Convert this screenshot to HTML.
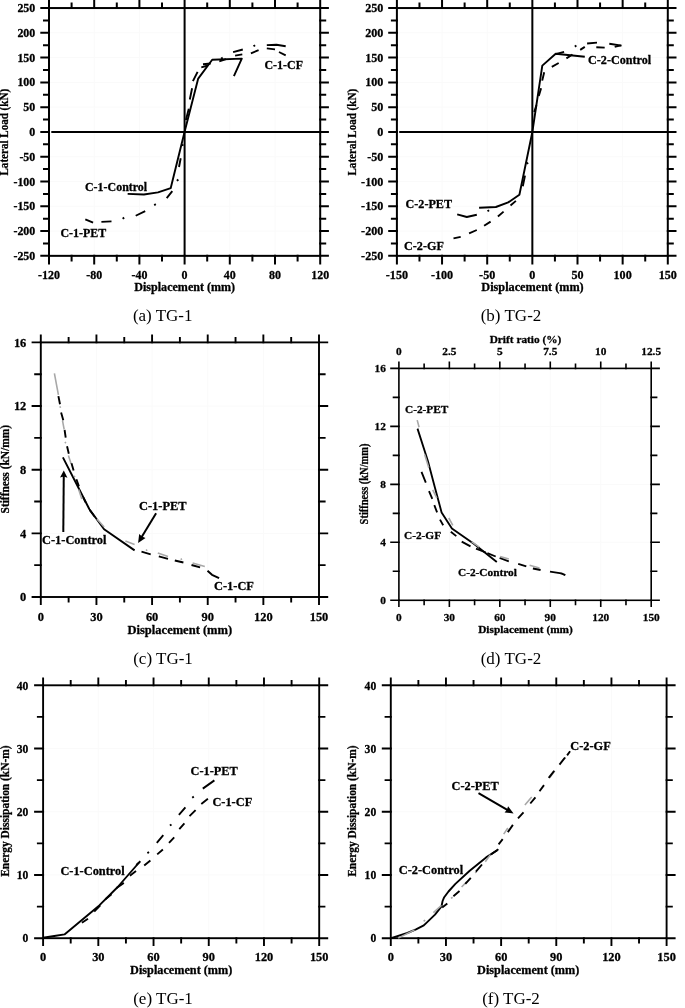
<!DOCTYPE html>
<html lang="en">
<head>
<meta charset="utf-8">
<title>Lateral load, stiffness and energy dissipation: TG-1 and TG-2</title>
<style>
html,body{margin:0;padding:0;background:#fff;}
body{width:685px;height:1008px;overflow:hidden;}
svg{display:block;font-family:'Liberation Serif', 'DejaVu Serif', serif;will-change:transform;}
text{fill:#000;}
text[font-weight=bold]{stroke:#000;stroke-width:.28px;stroke-linejoin:round;}
</style>
</head>
<body>
<svg width="685" height="1008" viewBox="0 0 685 1008">
<rect width="685" height="1008" fill="#fff"/>
<g id="panel-a">
<path d="M94.2 8.05V255.85M139.4 8.05V255.85M229.8 8.05V255.85M275 8.05V255.85M49 231.07H320.2M49 206.29H320.2M49 181.51H320.2M49 156.73H320.2M49 107.17H320.2M49 82.39H320.2M49 57.61H320.2M49 32.83H320.2" stroke="#fafafa" stroke-width="1" fill="none"/>
<rect x="49" y="8.05" width="271.2" height="247.8" fill="none" stroke="#000" stroke-width="2"/>
<path d="M49 254.85v9.6M49 9.05v-9.6M94.2 254.85v9.6M94.2 9.05v-9.6M139.4 254.85v9.6M139.4 9.05v-9.6M184.6 254.85v9.6M184.6 9.05v-9.6M229.8 254.85v9.6M229.8 9.05v-9.6M275 254.85v9.6M275 9.05v-9.6M320.2 254.85v9.6M320.2 9.05v-9.6M71.6 254.85v6.6M71.6 9.05v-6.6M116.8 254.85v6.6M116.8 9.05v-6.6M162 254.85v6.6M162 9.05v-6.6M207.2 254.85v6.6M207.2 9.05v-6.6M252.4 254.85v6.6M252.4 9.05v-6.6M297.6 254.85v6.6M297.6 9.05v-6.6M50 255.85h-9.7M319.2 255.85h9.7M50 231.07h-9.7M319.2 231.07h9.7M50 206.29h-9.7M319.2 206.29h9.7M50 181.51h-9.7M319.2 181.51h9.7M50 156.73h-9.7M319.2 156.73h9.7M50 131.95h-9.7M319.2 131.95h9.7M50 107.17h-9.7M319.2 107.17h9.7M50 82.39h-9.7M319.2 82.39h9.7M50 57.61h-9.7M319.2 57.61h9.7M50 32.83h-9.7M319.2 32.83h9.7M50 8.05h-9.7M319.2 8.05h9.7M50 243.46h-7M319.2 243.46h7M50 218.68h-7M319.2 218.68h7M50 193.9h-7M319.2 193.9h7M50 169.12h-7M319.2 169.12h7M50 144.34h-7M319.2 144.34h7M50 119.56h-7M319.2 119.56h7M50 94.78h-7M319.2 94.78h7M50 70h-7M319.2 70h7M50 45.22h-7M319.2 45.22h7M50 20.44h-7M319.2 20.44h7" stroke="#000" stroke-width="2" fill="none"/>
<path d="M51.3 131.95H320.2M184.6 8.05V255.85" stroke="#000" stroke-width="2" fill="none"/>
<text transform="translate(35.3 259.85) scale(1.03 1)" font-size="11.6" text-anchor="end" font-weight="bold">-250</text>
<text transform="translate(35.3 235.07) scale(1.03 1)" font-size="11.6" text-anchor="end" font-weight="bold">-200</text>
<text transform="translate(35.3 210.29) scale(1.03 1)" font-size="11.6" text-anchor="end" font-weight="bold">-150</text>
<text transform="translate(35.3 185.51) scale(1.03 1)" font-size="11.6" text-anchor="end" font-weight="bold">-100</text>
<text transform="translate(35.3 160.73) scale(1.03 1)" font-size="11.6" text-anchor="end" font-weight="bold">-50</text>
<text transform="translate(35.3 135.95) scale(1.03 1)" font-size="11.6" text-anchor="end" font-weight="bold">0</text>
<text transform="translate(35.3 111.17) scale(1.03 1)" font-size="11.6" text-anchor="end" font-weight="bold">50</text>
<text transform="translate(35.3 86.39) scale(1.03 1)" font-size="11.6" text-anchor="end" font-weight="bold">100</text>
<text transform="translate(35.3 61.61) scale(1.03 1)" font-size="11.6" text-anchor="end" font-weight="bold">150</text>
<text transform="translate(35.3 36.83) scale(1.03 1)" font-size="11.6" text-anchor="end" font-weight="bold">200</text>
<text transform="translate(35.3 12.05) scale(1.03 1)" font-size="11.6" text-anchor="end" font-weight="bold">250</text>
<text transform="translate(49 278.5) scale(1.03 1)" font-size="11.6" text-anchor="middle" font-weight="bold">-120</text>
<text transform="translate(94.2 278.5) scale(1.03 1)" font-size="11.6" text-anchor="middle" font-weight="bold">-80</text>
<text transform="translate(139.4 278.5) scale(1.03 1)" font-size="11.6" text-anchor="middle" font-weight="bold">-40</text>
<text transform="translate(184.6 278.5) scale(1.03 1)" font-size="11.6" text-anchor="middle" font-weight="bold">0</text>
<text transform="translate(229.8 278.5) scale(1.03 1)" font-size="11.6" text-anchor="middle" font-weight="bold">40</text>
<text transform="translate(275 278.5) scale(1.03 1)" font-size="11.6" text-anchor="middle" font-weight="bold">80</text>
<text transform="translate(320.2 278.5) scale(1.03 1)" font-size="11.6" text-anchor="middle" font-weight="bold">120</text>
<text transform="translate(184.7 291) scale(1.04 1)" font-size="11.6" text-anchor="middle" font-weight="bold">Displacement (mm)</text>
<text transform="translate(8.2 132.2) rotate(-90) scale(0.9 1)" font-size="12.3" text-anchor="middle" font-weight="bold">Lateral Load (kN)</text>
<text transform="translate(162.7 320.5)" font-size="17" text-anchor="middle">(a) TG-1</text>
<text transform="translate(264.5 68.5) scale(1.03 1)" font-size="11.6" font-weight="bold">C-1-CF</text>
<text transform="translate(85 190.5) scale(1.03 1)" font-size="11.6" font-weight="bold">C-1-Control</text>
<text transform="translate(60.5 237) scale(1.03 1)" font-size="11.6" font-weight="bold">C-1-PET</text>
</g>
<g id="panel-b">
<path d="M442.05 8.05V255.85M487.2 8.05V255.85M577.5 8.05V255.85M622.65 8.05V255.85M396.9 231.07H667.8M396.9 206.29H667.8M396.9 181.51H667.8M396.9 156.73H667.8M396.9 107.17H667.8M396.9 82.39H667.8M396.9 57.61H667.8M396.9 32.83H667.8" stroke="#fafafa" stroke-width="1" fill="none"/>
<rect x="396.9" y="8.05" width="270.9" height="247.8" fill="none" stroke="#000" stroke-width="2"/>
<path d="M396.9 254.85v9.6M396.9 9.05v-9.6M442.05 254.85v9.6M442.05 9.05v-9.6M487.2 254.85v9.6M487.2 9.05v-9.6M532.35 254.85v9.6M532.35 9.05v-9.6M577.5 254.85v9.6M577.5 9.05v-9.6M622.65 254.85v9.6M622.65 9.05v-9.6M667.8 254.85v9.6M667.8 9.05v-9.6M419.47 254.85v6.6M419.47 9.05v-6.6M464.62 254.85v6.6M464.62 9.05v-6.6M509.77 254.85v6.6M509.77 9.05v-6.6M554.92 254.85v6.6M554.92 9.05v-6.6M600.07 254.85v6.6M600.07 9.05v-6.6M645.22 254.85v6.6M645.22 9.05v-6.6M397.9 255.85h-9.7M666.8 255.85h9.7M397.9 231.07h-9.7M666.8 231.07h9.7M397.9 206.29h-9.7M666.8 206.29h9.7M397.9 181.51h-9.7M666.8 181.51h9.7M397.9 156.73h-9.7M666.8 156.73h9.7M397.9 131.95h-9.7M666.8 131.95h9.7M397.9 107.17h-9.7M666.8 107.17h9.7M397.9 82.39h-9.7M666.8 82.39h9.7M397.9 57.61h-9.7M666.8 57.61h9.7M397.9 32.83h-9.7M666.8 32.83h9.7M397.9 8.05h-9.7M666.8 8.05h9.7M397.9 243.46h-7M666.8 243.46h7M397.9 218.68h-7M666.8 218.68h7M397.9 193.9h-7M666.8 193.9h7M397.9 169.12h-7M666.8 169.12h7M397.9 144.34h-7M666.8 144.34h7M397.9 119.56h-7M666.8 119.56h7M397.9 94.78h-7M666.8 94.78h7M397.9 70h-7M666.8 70h7M397.9 45.22h-7M666.8 45.22h7M397.9 20.44h-7M666.8 20.44h7" stroke="#000" stroke-width="2" fill="none"/>
<path d="M399.2 131.95H667.8M532.35 8.05V255.85" stroke="#000" stroke-width="2" fill="none"/>
<text transform="translate(383.4 259.85) scale(1.03 1)" font-size="11.8" text-anchor="end" font-weight="bold">-250</text>
<text transform="translate(383.4 235.07) scale(1.03 1)" font-size="11.8" text-anchor="end" font-weight="bold">-200</text>
<text transform="translate(383.4 210.29) scale(1.03 1)" font-size="11.8" text-anchor="end" font-weight="bold">-150</text>
<text transform="translate(383.4 185.51) scale(1.03 1)" font-size="11.8" text-anchor="end" font-weight="bold">-100</text>
<text transform="translate(383.4 160.73) scale(1.03 1)" font-size="11.8" text-anchor="end" font-weight="bold">-50</text>
<text transform="translate(383.4 135.95) scale(1.03 1)" font-size="11.8" text-anchor="end" font-weight="bold">0</text>
<text transform="translate(383.4 111.17) scale(1.03 1)" font-size="11.8" text-anchor="end" font-weight="bold">50</text>
<text transform="translate(383.4 86.39) scale(1.03 1)" font-size="11.8" text-anchor="end" font-weight="bold">100</text>
<text transform="translate(383.4 61.61) scale(1.03 1)" font-size="11.8" text-anchor="end" font-weight="bold">150</text>
<text transform="translate(383.4 36.83) scale(1.03 1)" font-size="11.8" text-anchor="end" font-weight="bold">200</text>
<text transform="translate(383.4 12.05) scale(1.03 1)" font-size="11.8" text-anchor="end" font-weight="bold">250</text>
<text transform="translate(396.9 278.5) scale(1.03 1)" font-size="11.8" text-anchor="middle" font-weight="bold">-150</text>
<text transform="translate(442.05 278.5) scale(1.03 1)" font-size="11.8" text-anchor="middle" font-weight="bold">-100</text>
<text transform="translate(487.2 278.5) scale(1.03 1)" font-size="11.8" text-anchor="middle" font-weight="bold">-50</text>
<text transform="translate(532.35 278.5) scale(1.03 1)" font-size="11.8" text-anchor="middle" font-weight="bold">0</text>
<text transform="translate(577.5 278.5) scale(1.03 1)" font-size="11.8" text-anchor="middle" font-weight="bold">50</text>
<text transform="translate(622.65 278.5) scale(1.03 1)" font-size="11.8" text-anchor="middle" font-weight="bold">100</text>
<text transform="translate(667.8 278.5) scale(1.03 1)" font-size="11.8" text-anchor="middle" font-weight="bold">150</text>
<text transform="translate(532.5 291) scale(1.04 1)" font-size="11.8" text-anchor="middle" font-weight="bold">Displacement (mm)</text>
<text transform="translate(356.4 132.2) rotate(-90) scale(0.9 1)" font-size="12.3" text-anchor="middle" font-weight="bold">Lateral Load (kN)</text>
<text transform="translate(511 320.5)" font-size="17" text-anchor="middle">(b) TG-2</text>
<text transform="translate(588 63.5) scale(1.03 1)" font-size="11.8" font-weight="bold">C-2-Control</text>
<text transform="translate(405.5 207.5) scale(1.03 1)" font-size="11.8" font-weight="bold">C-2-PET</text>
<text transform="translate(404 250) scale(1.03 1)" font-size="11.8" font-weight="bold">C-2-GF</text>
</g>
<g id="panel-c">
<path d="M96.44 342.4V597M152.08 342.4V597M207.72 342.4V597M263.36 342.4V597M40.8 533.35H319M40.8 469.7H319M40.8 406.05H319" stroke="#fafafa" stroke-width="1" fill="none"/>
<rect x="40.8" y="342.4" width="278.2" height="254.6" fill="none" stroke="#000" stroke-width="1.9"/>
<path d="M40.8 596.05v8.85M40.8 343.35v-8.85M96.44 596.05v8.85M96.44 343.35v-8.85M152.08 596.05v8.85M152.08 343.35v-8.85M207.72 596.05v8.85M207.72 343.35v-8.85M263.36 596.05v8.85M263.36 343.35v-8.85M319 596.05v8.85M319 343.35v-8.85M68.62 596.05v6.35M68.62 343.35v-6.35M124.26 596.05v6.35M124.26 343.35v-6.35M179.9 596.05v6.35M179.9 343.35v-6.35M235.54 596.05v6.35M235.54 343.35v-6.35M291.18 596.05v6.35M291.18 343.35v-6.35M41.75 597h-10.15M318.05 597h10.15M41.75 533.35h-10.15M318.05 533.35h10.15M41.75 469.7h-10.15M318.05 469.7h10.15M41.75 406.05h-10.15M318.05 406.05h10.15M41.75 342.4h-10.15M318.05 342.4h10.15M41.75 565.17h-7.55M318.05 565.17h7.55M41.75 501.52h-7.55M318.05 501.52h7.55M41.75 437.88h-7.55M318.05 437.88h7.55M41.75 374.22h-7.55M318.05 374.22h7.55" stroke="#000" stroke-width="1.9" fill="none"/>
<text transform="translate(26.3 601.4) scale(1.03 1)" font-size="12.05" text-anchor="end" font-weight="bold">0</text>
<text transform="translate(26.3 537.75) scale(1.03 1)" font-size="12.05" text-anchor="end" font-weight="bold">4</text>
<text transform="translate(26.3 474.1) scale(1.03 1)" font-size="12.05" text-anchor="end" font-weight="bold">8</text>
<text transform="translate(26.3 410.45) scale(1.03 1)" font-size="12.05" text-anchor="end" font-weight="bold">12</text>
<text transform="translate(26.3 346.8) scale(1.03 1)" font-size="12.05" text-anchor="end" font-weight="bold">16</text>
<text transform="translate(40.8 621) scale(1.03 1)" font-size="12.05" text-anchor="middle" font-weight="bold">0</text>
<text transform="translate(96.44 621) scale(1.03 1)" font-size="12.05" text-anchor="middle" font-weight="bold">30</text>
<text transform="translate(152.08 621) scale(1.03 1)" font-size="12.05" text-anchor="middle" font-weight="bold">60</text>
<text transform="translate(207.72 621) scale(1.03 1)" font-size="12.05" text-anchor="middle" font-weight="bold">90</text>
<text transform="translate(263.36 621) scale(1.03 1)" font-size="12.05" text-anchor="middle" font-weight="bold">120</text>
<text transform="translate(319 621) scale(1.03 1)" font-size="12.05" text-anchor="middle" font-weight="bold">150</text>
<text transform="translate(179.8 633.6) scale(1.04 1)" font-size="12.05" text-anchor="middle" font-weight="bold">Displacement (mm)</text>
<text transform="translate(8.5 469.2) rotate(-90) scale(0.93 1)" font-size="12.3" text-anchor="middle" font-weight="bold">Stiffness (kN/mm)</text>
<text transform="translate(163 663.5)" font-size="17" text-anchor="middle">(c) TG-1</text>
<text transform="translate(139 509.8) scale(1.03 1)" font-size="12.05" font-weight="bold">C-1-PET</text>
<text transform="translate(42 543.5) scale(1.03 1)" font-size="12.05" font-weight="bold">C-1-Control</text>
<text transform="translate(214 590) scale(1.03 1)" font-size="12.05" font-weight="bold">C-1-CF</text>
<path d="M63.3 532L63.76 475.4" stroke="#000" stroke-width="2" fill="none"/>
<path d="M63.8 470.6L67.44 477.63L63.75 476.4L60.04 477.57Z" fill="#000"/>
<path d="M156.1 513.2L141.51 537.35" stroke="#000" stroke-width="2" fill="none"/>
<path d="M138.1 543L139.17 534.07L142.03 536.49L145.51 537.89Z" fill="#000"/>
</g>
<g id="panel-d">
<path d="M449.36 368.4V600.3M499.82 368.4V600.3M550.28 368.4V600.3M600.74 368.4V600.3M398.9 542.32H651.2M398.9 484.35H651.2M398.9 426.38H651.2" stroke="#fafafa" stroke-width="1" fill="none"/>
<rect x="398.9" y="368.4" width="252.3" height="231.9" fill="none" stroke="#000" stroke-width="1.6"/>
<path d="M398.9 599.5v7.6M449.36 599.5v7.6M499.82 599.5v7.6M550.28 599.5v7.6M600.74 599.5v7.6M651.2 599.5v7.6M424.13 599.5v5.8M474.59 599.5v5.8M525.05 599.5v5.8M575.51 599.5v5.8M625.97 599.5v5.8M398.9 369.2v-7.6M449.36 369.2v-7.6M499.82 369.2v-7.6M550.28 369.2v-7.6M600.74 369.2v-7.6M651.2 369.2v-7.6M424.13 369.2v-5.8M474.59 369.2v-5.8M525.05 369.2v-5.8M575.51 369.2v-5.8M625.97 369.2v-5.8M399.7 600.3h-9.5M650.4 600.3h9.5M399.7 542.32h-9.5M650.4 542.32h9.5M399.7 484.35h-9.5M650.4 484.35h9.5M399.7 426.38h-9.5M650.4 426.38h9.5M399.7 368.4h-9.5M650.4 368.4h9.5M399.7 571.31h-7M650.4 571.31h7M399.7 513.34h-7M650.4 513.34h7M399.7 455.36h-7M650.4 455.36h7M399.7 397.39h-7M650.4 397.39h7" stroke="#000" stroke-width="1.6" fill="none"/>
<text transform="translate(385.8 604.2) scale(1.03 1)" font-size="11" text-anchor="end" font-weight="bold">0</text>
<text transform="translate(385.8 546.22) scale(1.03 1)" font-size="11" text-anchor="end" font-weight="bold">4</text>
<text transform="translate(385.8 488.25) scale(1.03 1)" font-size="11" text-anchor="end" font-weight="bold">8</text>
<text transform="translate(385.8 430.27) scale(1.03 1)" font-size="11" text-anchor="end" font-weight="bold">12</text>
<text transform="translate(385.8 372.3) scale(1.03 1)" font-size="11" text-anchor="end" font-weight="bold">16</text>
<text transform="translate(398.9 621) scale(1.03 1)" font-size="11" text-anchor="middle" font-weight="bold">0</text>
<text transform="translate(449.36 621) scale(1.03 1)" font-size="11" text-anchor="middle" font-weight="bold">30</text>
<text transform="translate(499.82 621) scale(1.03 1)" font-size="11" text-anchor="middle" font-weight="bold">60</text>
<text transform="translate(550.28 621) scale(1.03 1)" font-size="11" text-anchor="middle" font-weight="bold">90</text>
<text transform="translate(600.74 621) scale(1.03 1)" font-size="11" text-anchor="middle" font-weight="bold">120</text>
<text transform="translate(651.2 621) scale(1.03 1)" font-size="11" text-anchor="middle" font-weight="bold">150</text>
<text transform="translate(398.9 355) scale(1.03 1)" font-size="11" text-anchor="middle" font-weight="bold">0</text>
<text transform="translate(449.36 355) scale(1.03 1)" font-size="11" text-anchor="middle" font-weight="bold">2.5</text>
<text transform="translate(499.82 355) scale(1.03 1)" font-size="11" text-anchor="middle" font-weight="bold">5</text>
<text transform="translate(550.28 355) scale(1.03 1)" font-size="11" text-anchor="middle" font-weight="bold">7.5</text>
<text transform="translate(600.74 355) scale(1.03 1)" font-size="11" text-anchor="middle" font-weight="bold">10</text>
<text transform="translate(651.2 355) scale(1.03 1)" font-size="11" text-anchor="middle" font-weight="bold">12.5</text>
<text transform="translate(525.5 342.5) scale(1.03 1)" font-size="11" text-anchor="middle" font-weight="bold">Drift ratio (%)</text>
<text transform="translate(525.5 633) scale(1.03 1)" font-size="11" text-anchor="middle" font-weight="bold">Displacement (mm)</text>
<text transform="translate(368 484) rotate(-90) scale(0.9 1)" font-size="11.6" text-anchor="middle" font-weight="bold">Stiffness (kN/mm)</text>
<text transform="translate(511 664)" font-size="17" text-anchor="middle">(d) TG-2</text>
<text transform="translate(405 413) scale(1.03 1)" font-size="11" font-weight="bold">C-2-PET</text>
<text transform="translate(404 538.5) scale(1.03 1)" font-size="11" font-weight="bold">C-2-GF</text>
<text transform="translate(458 575.5) scale(1.03 1)" font-size="11" font-weight="bold">C-2-Control</text>
</g>
<g id="panel-e">
<path d="M98.32 685.3V938.2M153.54 685.3V938.2M208.76 685.3V938.2M263.98 685.3V938.2M43.1 874.98H319.2M43.1 811.75H319.2M43.1 748.52H319.2" stroke="#fafafa" stroke-width="1" fill="none"/>
<rect x="43.1" y="685.3" width="276.1" height="252.9" fill="none" stroke="#000" stroke-width="1.9"/>
<path d="M43.1 937.25v8.85M43.1 686.25v-8.85M98.32 937.25v8.85M98.32 686.25v-8.85M153.54 937.25v8.85M153.54 686.25v-8.85M208.76 937.25v8.85M208.76 686.25v-8.85M263.98 937.25v8.85M263.98 686.25v-8.85M319.2 937.25v8.85M319.2 686.25v-8.85M70.71 937.25v6.35M70.71 686.25v-6.35M125.93 937.25v6.35M125.93 686.25v-6.35M181.15 937.25v6.35M181.15 686.25v-6.35M236.37 937.25v6.35M236.37 686.25v-6.35M291.59 937.25v6.35M291.59 686.25v-6.35M44.05 938.2h-9.95M318.25 938.2h9.95M44.05 874.98h-9.95M318.25 874.98h9.95M44.05 811.75h-9.95M318.25 811.75h9.95M44.05 748.52h-9.95M318.25 748.52h9.95M44.05 685.3h-9.95M318.25 685.3h9.95M44.05 906.59h-7.15M318.25 906.59h7.15M44.05 843.36h-7.15M318.25 843.36h7.15M44.05 780.14h-7.15M318.25 780.14h7.15M44.05 716.91h-7.15M318.25 716.91h7.15" stroke="#000" stroke-width="1.9" fill="none"/>
<text transform="translate(28.3 942.4) scale(0.97 1)" font-size="12" text-anchor="end" font-weight="bold">0</text>
<text transform="translate(28.3 879.18) scale(0.97 1)" font-size="12" text-anchor="end" font-weight="bold">10</text>
<text transform="translate(28.3 815.95) scale(0.97 1)" font-size="12" text-anchor="end" font-weight="bold">20</text>
<text transform="translate(28.3 752.73) scale(0.97 1)" font-size="12" text-anchor="end" font-weight="bold">30</text>
<text transform="translate(28.3 689.5) scale(0.97 1)" font-size="12" text-anchor="end" font-weight="bold">40</text>
<text transform="translate(43.1 960.5) scale(1.03 1)" font-size="12" text-anchor="middle" font-weight="bold">0</text>
<text transform="translate(98.32 960.5) scale(1.03 1)" font-size="12" text-anchor="middle" font-weight="bold">30</text>
<text transform="translate(153.54 960.5) scale(1.03 1)" font-size="12" text-anchor="middle" font-weight="bold">60</text>
<text transform="translate(208.76 960.5) scale(1.03 1)" font-size="12" text-anchor="middle" font-weight="bold">90</text>
<text transform="translate(263.98 960.5) scale(1.03 1)" font-size="12" text-anchor="middle" font-weight="bold">120</text>
<text transform="translate(319.2 960.5) scale(1.03 1)" font-size="12" text-anchor="middle" font-weight="bold">150</text>
<text transform="translate(181.2 973.7) scale(1.02 1)" font-size="12" text-anchor="middle" font-weight="bold">Displacement (mm)</text>
<text transform="translate(8.5 811.1) rotate(-90) scale(0.93 1)" font-size="12.3" text-anchor="middle" font-weight="bold">Energy Dissipation (kN-m)</text>
<text transform="translate(163 1003.6)" font-size="17" text-anchor="middle">(e) TG-1</text>
<text transform="translate(190.5 774.5) scale(1.03 1)" font-size="12" font-weight="bold">C-1-PET</text>
<text transform="translate(212.4 806) scale(1.03 1)" font-size="12" font-weight="bold">C-1-CF</text>
<text transform="translate(60.4 875) scale(1.03 1)" font-size="12" font-weight="bold">C-1-Control</text>
</g>
<g id="panel-f">
<path d="M445.96 685.3V938.2M501.12 685.3V938.2M556.28 685.3V938.2M611.44 685.3V938.2M390.8 874.98H666.6M390.8 811.75H666.6M390.8 748.52H666.6" stroke="#fafafa" stroke-width="1" fill="none"/>
<rect x="390.8" y="685.3" width="275.8" height="252.9" fill="none" stroke="#000" stroke-width="1.9"/>
<path d="M390.8 937.25v8.85M390.8 686.25v-8.85M445.96 937.25v8.85M445.96 686.25v-8.85M501.12 937.25v8.85M501.12 686.25v-8.85M556.28 937.25v8.85M556.28 686.25v-8.85M611.44 937.25v8.85M611.44 686.25v-8.85M666.6 937.25v8.85M666.6 686.25v-8.85M418.38 937.25v6.35M418.38 686.25v-6.35M473.54 937.25v6.35M473.54 686.25v-6.35M528.7 937.25v6.35M528.7 686.25v-6.35M583.86 937.25v6.35M583.86 686.25v-6.35M639.02 937.25v6.35M639.02 686.25v-6.35M391.75 938.2h-9.95M665.65 938.2h9.95M391.75 874.98h-9.95M665.65 874.98h9.95M391.75 811.75h-9.95M665.65 811.75h9.95M391.75 748.52h-9.95M665.65 748.52h9.95M391.75 685.3h-9.95M665.65 685.3h9.95M391.75 906.59h-7.15M665.65 906.59h7.15M391.75 843.36h-7.15M665.65 843.36h7.15M391.75 780.14h-7.15M665.65 780.14h7.15M391.75 716.91h-7.15M665.65 716.91h7.15" stroke="#000" stroke-width="1.9" fill="none"/>
<text transform="translate(376.2 942.4) scale(0.97 1)" font-size="12" text-anchor="end" font-weight="bold">0</text>
<text transform="translate(376.2 879.18) scale(0.97 1)" font-size="12" text-anchor="end" font-weight="bold">10</text>
<text transform="translate(376.2 815.95) scale(0.97 1)" font-size="12" text-anchor="end" font-weight="bold">20</text>
<text transform="translate(376.2 752.73) scale(0.97 1)" font-size="12" text-anchor="end" font-weight="bold">30</text>
<text transform="translate(376.2 689.5) scale(0.97 1)" font-size="12" text-anchor="end" font-weight="bold">40</text>
<text transform="translate(390.8 960.5) scale(1.03 1)" font-size="12" text-anchor="middle" font-weight="bold">0</text>
<text transform="translate(445.96 960.5) scale(1.03 1)" font-size="12" text-anchor="middle" font-weight="bold">30</text>
<text transform="translate(501.12 960.5) scale(1.03 1)" font-size="12" text-anchor="middle" font-weight="bold">60</text>
<text transform="translate(556.28 960.5) scale(1.03 1)" font-size="12" text-anchor="middle" font-weight="bold">90</text>
<text transform="translate(611.44 960.5) scale(1.03 1)" font-size="12" text-anchor="middle" font-weight="bold">120</text>
<text transform="translate(666.6 960.5) scale(1.03 1)" font-size="12" text-anchor="middle" font-weight="bold">150</text>
<text transform="translate(528.2 973.7) scale(1.02 1)" font-size="12" text-anchor="middle" font-weight="bold">Displacement (mm)</text>
<text transform="translate(356 811.1) rotate(-90) scale(0.93 1)" font-size="12.3" text-anchor="middle" font-weight="bold">Energy Dissipation (kN-m)</text>
<text transform="translate(511 1003.6)" font-size="17" text-anchor="middle">(f) TG-2</text>
<text transform="translate(570.3 750.3) scale(1.03 1)" font-size="12" font-weight="bold">C-2-GF</text>
<text transform="translate(451.5 789.8) scale(1.03 1)" font-size="12" font-weight="bold">C-2-PET</text>
<text transform="translate(398.8 874.3) scale(1.03 1)" font-size="12" font-weight="bold">C-2-Control</text>
<path d="M478.5 793.1L507.73 810.17" stroke="#000" stroke-width="2" fill="none"/>
<path d="M513.6 813.6L504.58 812.39L506.86 809.67L508.11 806.34Z" fill="#000"/>
</g>
<g id="curves-a">
<path d="M185.9 119.9L188.8 108.7M189.8 99.5L192.1 88.2M192.9 81.1L197.6 71.9M201.3 67.3L207.8 65.5M219.3 61.3L226 59.1M235.1 55.6L242.3 54.4M250.9 53.3L258.6 50.2M266.8 48.4L275 49.4M279 52L285.7 55.3" stroke="#000" stroke-width="1.9" fill="none" stroke-linejoin="round"/>
<path d="M203 64.2L210.7 63.5M233.1 52.2L242.8 49.5M266.8 45.1L276.5 44.8L285.7 46.3M180.7 158.3L179 167M172.3 191.2L166.7 198.2M145.2 211.2L135.7 215.75M111.5 221.4L101.4 221.9M93.1 222.6L85.3 219.3M221.1 58.73l1.6 -1.07M253.5 46.33l1.6 -1.07M176.8 180.73l1.6 -1.07M154.2 205.23l1.6 -1.07M122.6 218.73l1.6 -1.07M181.8 145.53l1.6 -1.07" stroke="#000" stroke-width="1.9" fill="none" stroke-linejoin="round"/>
<path d="M127.65 193.9L143.9 194.5L158 192.4L170.75 188.1L184.6 131.7L198.2 78.6L212.2 59.8L241.8 58.6L233.9 76.2" stroke="#000" stroke-width="1.9" fill="none" stroke-linejoin="round" stroke-linecap="butt"/>
</g>
<g id="curves-b">
<path d="M534.2 112L536.5 105.1M538.8 95.9L541.1 88.2M542.2 80.6L544.2 72.2M551.8 66.8L558.7 63M566.4 58.4L572.5 54.5M580.2 49.9L584.8 46.9M596.3 47.3L604.7 47.6M614.7 46.9L620.8 45.3M515.9 200.9L510.5 205.5M503.6 211.6L497.9 216.5M490.6 221.6L484.1 225.7M476.8 230L469.1 233.4M460.7 236.9L453.5 238.4" stroke="#000" stroke-width="1.9" fill="none" stroke-linejoin="round"/>
<path d="M556.4 53.8L564.1 51.8M587.1 43.5L597 42.6M609.3 43.8L621.6 45.6M525 175.6L522.8 186.3M476.8 214.7L466.8 217L457.2 214.4M574.8 46.63l1.6 -1.07M526.6 163.83l1.6 -1.07M487.5 211.33l1.6 -1.07" stroke="#000" stroke-width="1.9" fill="none" stroke-linejoin="round"/>
<path d="M479.1 207.8L495.9 207L508.2 202.4L519.4 194.7L532.4 131.7L542.3 65.6L555.7 53.8L584.8 56.8" stroke="#000" stroke-width="1.9" fill="none" stroke-linejoin="round" stroke-linecap="butt"/>
</g>
<g id="curves-c">
<path d="M62.9 457.4L78.7 488.2L89.4 509.2L104.1 529.3L134.6 550.4" stroke="#000" stroke-width="1.9" fill="none" stroke-linejoin="round" stroke-linecap="butt"/>
<path d="M54.4 373.4L58.4 394.8M62.5 420.7L64.2 429.6M68.4 455.6L71.1 463.7M78.7 489.6L81.8 498.9M97 519L104.1 527M125.4 541L134.6 544.4M157.8 553.1L168 556.4M192.6 562.9L204.8 566.6M59.55 407.53l1.3 -0.87M64.75 443.03l1.3 -0.87M73.85 477.03l1.3 -0.87M145.95 550.63l1.3 -0.87M180.65 559.63l1.3 -0.87" stroke="#a8a8a8" stroke-width="1.6" fill="none" stroke-linejoin="round"/>
<path d="M58.4 396.1L60 404.2M61.1 412.6L63.3 420.2M64.6 430L65.7 437.6M67.05 446.25L68.8 453.8M71.5 463.2L73.6 470.4M76.4 479.3L78.9 486.4M83.4 497.6L85.6 502.3M89.6 509.9L94.9 517M141.5 551.7L150.7 554.3M158.8 556.4L168 558.8M174.8 560.5L183.4 562.5M191.5 565L200.1 567.4M207.5 570.7L212 574.8L219.1 578.2" stroke="#000" stroke-width="1.9" fill="none" stroke-linejoin="round"/>
</g>
<g id="curves-d">
<path d="M417.5 428.6L427.9 461L435.1 488.3L441.6 512.4L451.9 528.5L473.8 543.8L496.8 562" stroke="#000" stroke-width="1.85" fill="none" stroke-linejoin="round" stroke-linecap="butt"/>
<path d="M417.2 420.1L419.1 427.3M424.7 454.6L428.7 467.4M432.7 489.9L436.8 498M448.8 518L452.8 525.3M471.6 541.6L479.3 547.1M500.1 556.5L508.8 559.1M529.6 565.3L539.5 567.9M560.3 573.4L565.3 575.1" stroke="#a8a8a8" stroke-width="1.6" fill="none" stroke-linejoin="round"/>
<path d="M421.5 471.9L425.8 482.7M429 491.2L432.3 498.8M434.3 505.2L437.1 512.4M440 519.6L443.2 525.3M450.8 531.7L456.3 536.1M461.7 541.6L470.5 546.4M476 548.6L485.8 552.5M487.4 553.2L495.7 556.5M499.6 558L508.8 561.3M518.2 563.9L526.3 566.3M532.9 568.5L540.6 570M550 571.6L561.4 573.4L565.3 575.1" stroke="#000" stroke-width="1.85" fill="none" stroke-linejoin="round"/>
</g>
<g id="curves-e">
<path d="M81.9 922.8L88 918.7M94.2 911.5L100.3 905.4M105.4 899.3L111.5 894.2M116.6 888L123.8 882.9M129.9 875.8L136 871.1M144.2 865.5L150.4 860.4M157.2 854.4L162.9 849.5M169 842.8L174.2 837.3M179.3 829.1L184.4 823.4M189.5 816.2L195.6 810.1M201.3 803.9L207.9 798.8" stroke="#000" stroke-width="1.9" fill="none" stroke-linejoin="round"/>
<path d="M136.3 865L140.4 861.2M156.8 842.8L163.3 835.2M178.9 814.8L185.4 807.4M202.8 788.6L214.4 780.4M147.4 853.13l1.6 -1.07M169.9 825.53l1.6 -1.07M192.2 797.73l1.6 -1.07" stroke="#000" stroke-width="1.9" fill="none" stroke-linejoin="round"/>
<path d="M43.1 937.7L54.3 936L64.5 934.4L99.3 905.4L117.7 887L139.1 862.5" stroke="#000" stroke-width="1.9" fill="none" stroke-linejoin="round" stroke-linecap="butt"/>
</g>
<g id="curves-f">
<path d="M391.1 938.1L407.4 933L416 929.4L423.8 925.4L435 914.6L441.5 906.4L442.6 901L444.2 897.2L448.5 891.5L455.4 883.9L469.7 870.7L486.1 857.4L497.3 850.2" stroke="#000" stroke-width="1.9" fill="none" stroke-linejoin="round" stroke-linecap="butt"/>
<path d="M398.2 938.1L414.6 929.9M433.4 912.6L441.5 905.4M461.6 887L466.7 881.9M485.3 861.7L490.4 854.6M503.7 834.1L507.8 828M524.9 805.1L531.7 797M549.7 777.9L554.8 770.8M560.9 762.6L565.6 757.5M423.6 921.23l1.6 -1.07M451 898.33l1.6 -1.07M475.1 872.83l1.6 -1.07" stroke="#a8a8a8" stroke-width="1.6" fill="none" stroke-linejoin="round"/>
<path d="M442.2 907.4L447.3 903.4M453.4 896.2L459.5 891.1M465.3 883.9L470.8 877.8M475.9 871.7L482 864.5M491.2 854.3L498.4 849.2M498.6 844.3L502.7 839.2M507.8 832.1L512.9 824.9M518 818.4L523.5 812.3M530.3 803.5L535.4 797.3M539.5 791.2L544 785.1M548.7 777.9L554.2 770.8M559.5 764.6L565 757.5M567.1 755.4L570.1 751.3" stroke="#000" stroke-width="1.9" fill="none" stroke-linejoin="round"/>
</g>
</svg>
</body>
</html>
